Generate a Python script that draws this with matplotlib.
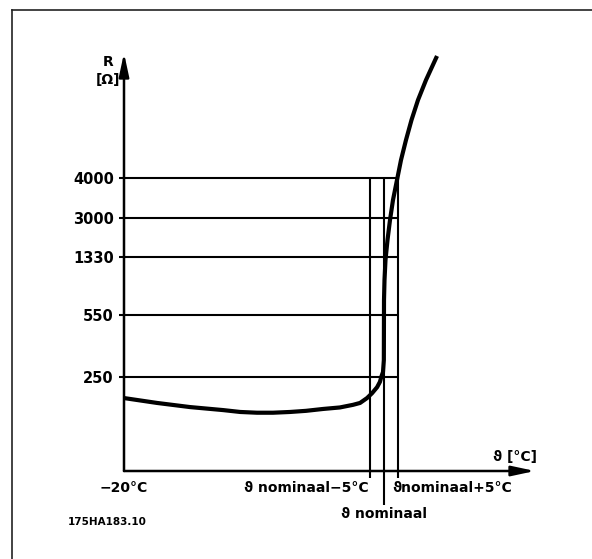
import numpy as np
import matplotlib
matplotlib.use("Agg")
import matplotlib.pyplot as plt
from matplotlib.lines import Line2D

# ---------------- data ----------------
# curve: temperature (deg C, nominal ~73) vs resistance (Ohm)
curve_T = [-20, -8.2, 3.6, 15.4, 21.5, 27.5, 33.2, 39.3, 45.0, 51.1, 57.1, 61.8, 64.3, 66.8, 68.6,
           70.4, 71.4, 72.0, 72.5, 72.8, 72.86, 73.04, 73.39, 74.11, 75.0,
           76.07, 77.5, 78.93, 80.71, 82.68, 85.0, 87.86, 91.79]
curve_R = [194, 181, 170, 162, 157, 155, 155, 157, 160, 165, 169, 176, 181, 194, 207,
           223, 237, 255, 274, 332, 752, 1021, 1290, 2058, 2914,
           3450, 3950, 4450, 4950, 5450, 5950, 6450, 7050]

tick_R = [250, 550, 1330, 3000, 4000]
tick_labels = ["250", "550", "1330", "3000", "4000"]

T_start = -20
T_nom = 73
T_minus = 68
T_plus = 78

label_start = "\u221220\u00b0C"
label_minus = "\u03d1 nominaal\u22125\u00b0C"
label_plus = "\u03d1nominaal+5\u00b0C"
label_nom = "\u03d1 nominaal"
label_x = "\u03d1 [\u00b0C]"
label_y1 = "R"
label_y2 = "[\u03a9]"
code_label = "175HA183.10"

# ---------------- layout ----------------
W, H = 592, 559
fig = plt.figure(figsize=(W / 100, H / 100), dpi=100)
fig.patch.set_facecolor("white")

x0, y_axis_px, x1, y_top = 124, 471, 535, 53
ax = fig.add_axes([x0 / W, (H - y_axis_px) / H, (x1 - x0) / W, (y_axis_px - y_top) / H])

# piecewise scale for the resistance axis (non-linear in original)
Rk = np.array([-250, 0, 250, 550, 1330, 3000, 4000, 8000], dtype=float)
Hk = np.array([-94, 0, 94, 156, 214, 253, 293, 453], dtype=float)
fwd = lambda r: np.interp(r, Rk, Hk)
inv = lambda h: np.interp(h, Hk, Rk)
ax.set_yscale("function", functions=(fwd, inv))
ax.set_ylim(0, float(inv(y_axis_px - y_top)))
px_per_deg = 2.8
ax.set_xlim(T_start, T_start + (x1 - x0) / px_per_deg)

for s in ax.spines.values():
    s.set_visible(False)
ax.set_xticks([])
ax.set_yticks(tick_R)
ax.set_yticklabels(tick_labels, fontsize=10.5, fontweight="bold", family="DejaVu Sans")
ax.tick_params(axis="y", length=3.6, width=1.5, pad=3.6, direction="out")
ax.yaxis.set_minor_locator(matplotlib.ticker.NullLocator())

lw_grid = 1.5
# horizontal lines
for r in tick_R:
    ax.plot([T_start, T_plus], [r, r], color="black", lw=lw_grid, solid_capstyle="butt", clip_on=False)
# vertical lines
top_R = max(tick_R)
for t, bottom in [(T_minus, -19), (T_plus, -19), (T_nom, -90)]:
    ax.plot([t, t], [bottom, top_R], color="black", lw=lw_grid, solid_capstyle="butt", clip_on=False)

# curve
ax.plot(curve_T, curve_R, color="black", lw=3.0, solid_capstyle="butt", solid_joinstyle="round",
        clip_on=False, zorder=5)

# axes arrows
arrow_kw = dict(arrowstyle="-|>,head_length=1.4,head_width=0.3", color="black", lw=1.8,
                shrinkA=0, shrinkB=0, mutation_scale=10)
ax.annotate("", xy=(0, 1), xytext=(0, 0), xycoords="axes fraction", arrowprops=arrow_kw)
ax.annotate("", xy=(1, 0), xytext=(0, 0), xycoords="axes fraction", arrowprops=arrow_kw)

fkw = dict(fontsize=10, fontweight="bold", family="DejaVu Sans", color="black")
pt = 0.72
ax.annotate(label_start, xy=(T_start, 0), xytext=(0, -17 * pt), textcoords="offset points",
            ha="center", va="center", **fkw)
ax.annotate(label_minus, xy=(T_minus, 0), xytext=(-2 * pt, -17 * pt), textcoords="offset points",
            ha="right", va="center", **fkw)
ax.annotate(label_plus, xy=(T_plus, 0), xytext=(-6 * pt, -17 * pt), textcoords="offset points",
            ha="left", va="center", **fkw)
ax.annotate(label_nom, xy=(T_nom, 0), xytext=(0, -43 * pt), textcoords="offset points",
            ha="center", va="center", **fkw)
ax.annotate(label_x, xy=(1, 0), xycoords="axes fraction", xytext=(2 * pt, 14 * pt),
            textcoords="offset points", ha="right", va="center", **fkw)
ax.annotate(label_y1, xy=(0, 1), xycoords="axes fraction", xytext=(-16 * pt, -9 * pt),
            textcoords="offset points", ha="center", va="center", **fkw)
ax.annotate(label_y2, xy=(0, 1), xycoords="axes fraction", xytext=(-16 * pt, -27 * pt),
            textcoords="offset points", ha="center", va="center", **fkw)

fig.text(68 / W, 1 - 522 / H, code_label, fontsize=7.5, fontweight="bold", family="DejaVu Sans",
         ha="left", va="center")

# frame (top and left only)
fy = 1 - 9.5 / H
fx = 11.5 / W
fig.add_artist(Line2D([fx, 1], [fy, fy], transform=fig.transFigure, color="#222222", lw=1.2))
fig.add_artist(Line2D([fx, fx], [0, fy], transform=fig.transFigure, color="#222222", lw=1.2))

fig.savefig("out.png", dpi=100, facecolor="white")
